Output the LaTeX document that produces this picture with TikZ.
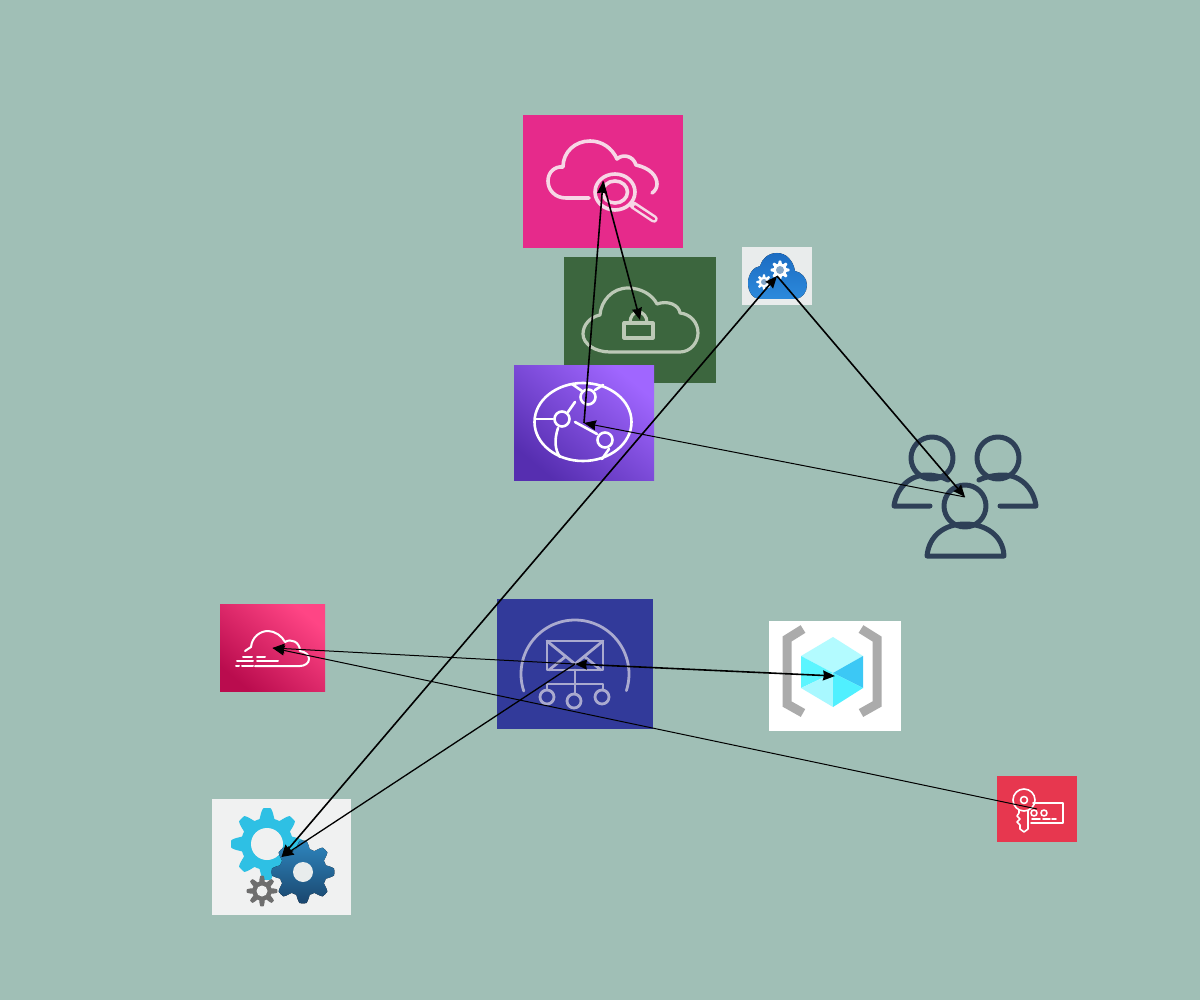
\documentclass[tikz,border=0pt]{standalone}
\usetikzlibrary{arrows.meta}
\definecolor{bgc}{HTML}{A0BFB6}
\definecolor{watchc}{HTML}{E62A8B}
\definecolor{watchl}{HTML}{F7D7E6}
\definecolor{lockc}{HTML}{3C663E}
\definecolor{lockl}{HTML}{BCC9B6}
\definecolor{distt}{HTML}{A066FF}
\definecolor{distb}{HTML}{562EB0}
\definecolor{cgbox}{HTML}{E9ECEC}
\definecolor{cgt}{HTML}{1C6CC2}
\definecolor{cgb}{HTML}{2C8ADC}
\definecolor{cghole}{HTML}{82A5C8}
\definecolor{usersc}{HTML}{2E4057}
\definecolor{fogt}{HTML}{FF4585}
\definecolor{fogb}{HTML}{BA0C4E}
\definecolor{mailc}{HTML}{323A9A}
\definecolor{maill}{HTML}{AAAACF}
\definecolor{gearbox}{HTML}{F0F1F1}
\definecolor{keyc}{HTML}{E7374F}
\definecolor{brk}{HTML}{ABABAB}
\definecolor{cubea}{HTML}{B3FBFF}
\definecolor{cubeb}{HTML}{5CF5FF}
\definecolor{cubec}{HTML}{3CC8F5}
\definecolor{cubed}{HTML}{A8F8FF}
\definecolor{cubee}{HTML}{50F0FF}
\definecolor{gearblue}{HTML}{2EC0E4}
\definecolor{geargray}{HTML}{6E6E6E}
\definecolor{geart}{HTML}{2E86BE}
\definecolor{gearb}{HTML}{1A466E}
\definecolor{gearhole}{HTML}{E8ECEC}
\newcommand{\gearat}[8]{% cx cy rbody h teeth phase fillopts holeopts
  \fill[shift={(#1,#2)},#7] plot[domain=0:360,samples=289] (\x:{#3+#4*min(1,max(-1,1.5*cos(#5*(\x-#6))))}) -- cycle;
  \fill[#8] (#1,#2) circle[];
}
\tikzset{
  x=1pt,y=-1pt,
  iconbox/.style={inner sep=0,outer sep=0,draw=none,rectangle},
  wline/.style={draw=#1,line cap=round,line join=round,fill=none},
  link/.style={black,line width=1pt,-{Stealth[length=12pt,width=10pt,inset=1pt]}},
  linkthick/.style={black,line width=1.6pt,-{Stealth[length=12pt,width=10pt,inset=1pt]}},
  linkboth/.style={black,line width=1.6pt,{Stealth[length=12pt,width=10pt,inset=1pt]}-{Stealth[length=12pt,width=10pt,inset=1pt]}},
}
\begin{document}
\begin{tikzpicture}
\useasboundingbox (0,0) rectangle (1200,1000);
\fill[bgc] (0,0) rectangle (1200,1000);

% ---- boxes
\node[iconbox,fill=watchc,minimum width=160pt,minimum height=133pt] (watch) at (603,181.5) {};
\node[iconbox,fill=lockc,minimum width=152pt,minimum height=126pt] (lock) at (640,320) {};
\node[iconbox,shading=axis,top color=distt,bottom color=distb,shading angle=-40,minimum width=140pt,minimum height=115.5pt] (dist) at (584,423) {};
\node[iconbox,fill=cgbox,minimum width=70pt,minimum height=58pt] (cloudgear) at (777,276) {};
\node[iconbox,minimum width=146pt,minimum height=121pt] (users) at (965,497) {};
\node[iconbox,shading=axis,top color=fogt,bottom color=fogb,shading angle=-40,minimum width=105pt,minimum height=87.5pt] (fog) at (272.5,648) {};
\node[iconbox,fill=mailc,minimum width=156pt,minimum height=130pt] (mail) at (575,664) {};
\node[iconbox,fill=white,minimum width=132pt,minimum height=110pt] (cube) at (835,676) {};
\node[iconbox,fill=gearbox,minimum width=139pt,minimum height=116pt] (gears) at (281.5,857) {};
\node[iconbox,fill=keyc,minimum width=80pt,minimum height=66pt] (key) at (1037,809) {};

% ---- watch icon
\begin{scope}[wline=watchl,line width=3.6pt]
\draw (589,198)--(566,198) .. controls (555,198) and (548,190) .. (548,181) .. controls (548,172) and (555,166) .. (563,167) .. controls (563,152) and (575,141) .. (590,141) .. controls (602,141) and (612,148) .. (617,159) .. controls (622,154) and (633,155) .. (636,165) .. controls (650,168) and (657,176) .. (657,184) .. controls (657,188) and (655,191) .. (652,193);
\draw (615,192) ellipse[x radius=20,y radius=18];
\draw (615,192) ellipse[x radius=12.5,y radius=11];
\draw[line width=7.5pt] (633,205)--(654,219);
\draw[line width=2.5pt,draw=watchc] (635,206.5)--(654,219);
\end{scope}

% ---- lock icon
\begin{scope}[wline=lockl,line width=3.2pt]
\draw (610,352)--(680,352) .. controls (690,352) and (698,343) .. (698,333) .. controls (698,322) and (690,314) .. (680,313) .. controls (679,305) and (668,300) .. (657,304) .. controls (652,294) and (640,288) .. (628,288) .. controls (612,288) and (601,301) .. (600,315) .. controls (590,317) and (583,325) .. (583,334) .. controls (583,344) and (595,352) .. (610,352) -- cycle;
\draw (624,323) rectangle (653,338);
\draw (630,323) .. controls (630,316) and (634,312) .. (638,312) .. controls (643,312) and (647,316) .. (647,323);
\end{scope}

% ---- distribution icon
\begin{scope}[wline=white,line width=2.6pt]
\draw (583,422) ellipse[x radius=48.5,y radius=39];
\draw (588,397) circle[radius=7.5];
\draw (562,419) circle[radius=7.5];
\draw (605,440) circle[radius=7.5];
\draw (575,402)--(568,412);
\draw (575,422)--(597,434);
\draw (536,419)--(553,419);
\draw (558,428) .. controls (554,440) and (555,450) .. (560,457);
\draw (572,384)--(582,391);
\draw (595,390)--(603,385);
\draw (609,449)--(602,459);
\end{scope}

% ---- cloud with gears
\fill[top color=cgt,bottom color=cgb]
  (760,299) -- (795,299) .. controls (802,299) and (807,292) .. (807,285) .. controls (807,278) and (801,272) .. (795,271) .. controls (793,260) and (786,253) .. (777,253) .. controls (768,253) and (762,259) .. (760,266) .. controls (753,267) and (748,275) .. (748,283) .. controls (748,292) and (753,299) .. (760,299) -- cycle;
\gearat{780}{270}{8}{1.5}{8}{90}{fill=white}{fill=cghole,radius=4pt}
\gearat{764}{282}{6.3}{1.3}{8}{90}{fill=white}{fill=cghole,radius=3pt}

% ---- users icon
\begin{scope}[wline=usersc,line width=5pt]
\draw (932,458) circle[radius=21];
\draw (998,458) circle[radius=21];
\draw (965,506) circle[radius=21];
\draw (930,506)--(894,506) .. controls (896,490) and (908,475) .. (927,475) .. controls (935,475) and (942,477) .. (948,480);
\draw (1000,506)--(1036,506) .. controls (1034,490) and (1022,475) .. (1003,475) .. controls (995,475) and (985,477) .. (979,480);
\draw (927,556) .. controls (929,535) and (945,524) .. (965,524) .. controls (985,524) and (1003,535) .. (1004,556) -- cycle;
\end{scope}

% ---- fog icon
\begin{scope}[wline=white,line width=2pt]
\draw (245,651) -- (251,647) .. controls (252,637) and (260,631) .. (268,631) .. controls (275,631) and (282,636) .. (285,642) .. controls (291,638) and (300,642) .. (300,651) .. controls (306,652) and (309,655) .. (309,659) .. controls (309,663) and (305,666) .. (300,666) -- (255,666);
\draw (243,657)--(252,657) (257,657)--(265,657);
\draw (237,661)--(253,661) (257,661)--(278,661);
\draw (236,666)--(239,666) (242,666)--(253,666) (256,666)--(263,666);
\end{scope}

% ---- mail icon
\begin{scope}[wline=maill,line width=2.8pt]
\draw[shift={(575,674)}] plot[domain=161.6:378,samples=60] (\x:54);
\draw (547,641) rectangle (603,670);
\draw (547,641)--(575,664)--(603,641);
\draw (549,670)--(565,657) (601,670)--(585,657);
\draw (575,670)--(575,685);
\draw (547,690)--(547,684)--(603,684)--(603,690);
\draw (575,684)--(575,694);
\draw (547,697) circle[radius=7];
\draw (574,701) circle[radius=7];
\draw (602,697) circle[radius=7];
\end{scope}

% ---- cube icon
\draw[line width=9pt,draw=brk] (803,629)--(787,639)--(787,704)--(803,713);
\draw[line width=9pt,draw=brk] (861,629)--(877,639)--(877,704)--(861,713);
\fill[cubea] (833,637)--(863,656)--(833,673)--(801,656)--cycle;
\fill[cubeb] (801,656)--(833,673)--(801,688)--cycle;
\fill[cubec] (863,656)--(833,673)--(863,688)--cycle;
\fill[cubed] (801,688)--(833,673)--(833,707)--cycle;
\fill[cubee] (833,673)--(863,688)--(833,707)--cycle;

% ---- gears icon
\gearat{267}{844}{31}{5}{8}{90}{fill=gearblue}{fill=gearbox,radius=16pt}
\gearat{262}{891}{12.5}{2.8}{8}{90}{fill=geargray}{fill=gearbox,radius=5.5pt}
\gearat{303}{872}{27.5}{3.8}{8}{90}{top color=geart,bottom color=gearb}{fill=gearhole,radius=10pt}

% ---- key icon
\begin{scope}[wline=white,line width=1.6pt]
\draw (1024,800) circle[radius=11];
\draw (1024,800) circle[radius=3.5];
\draw (1019,810)--(1019,813)--(1017,816)--(1020,819)--(1017,822)--(1020,825)--(1020,829)--(1024,832)--(1028,829)--(1028,811);
\draw (1033,803)--(1063,803)--(1063,823)--(1031,823);
\draw (1034,813) circle[radius=3];
\draw (1044,813) circle[radius=3];
\draw (1032,819)--(1040,819) (1043,819)--(1050,819) (1052,819)--(1056,819);
\end{scope}

% ---- connectors
\draw[link] (key.center) -- (fog.center);
\draw[link] (mail.center) -- (fog.center);
\draw[linkboth] (cube.center) -- (mail.center);
\draw[link,line width=1.3pt] (mail.center) -- (gears.center);
\draw[linkboth] (gears.center) -- (cloudgear.center);
\draw[linkthick] (cloudgear.center) -- (users.center);
\draw[link] (users.center) -- (dist.center);
\draw[linkthick] (dist.center) -- (watch.center);
\draw[linkthick] (watch.center) -- (lock.center);
\end{tikzpicture}
\end{document}
